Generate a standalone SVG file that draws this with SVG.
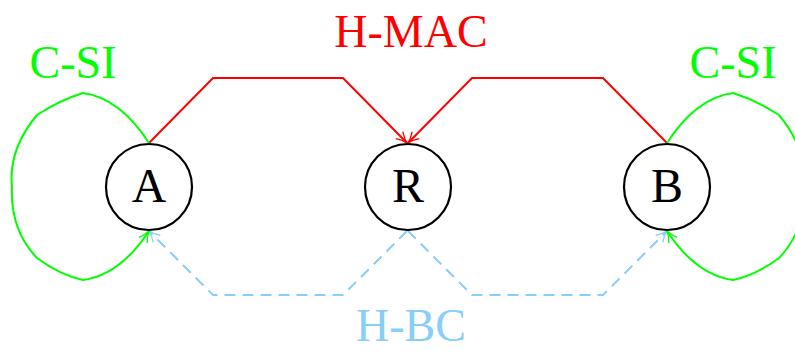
<svg xmlns="http://www.w3.org/2000/svg" width="795" height="351" viewBox="0 0 795 351">
<style>
.node circle{fill:#fff;stroke:#000;stroke-width:2.2}
.node text{font-family:"Liberation Serif",serif;font-size:48px;text-anchor:middle;fill:#000}
.lbl{font-family:"Liberation Serif",serif;font-size:46px;text-anchor:middle}
.red{stroke:#FF0000;stroke-width:2;fill:none}
.blue{stroke:#87CEFA;stroke-width:2;fill:none;stroke-dasharray:11 7}
.green{stroke:#00FF00;stroke-width:2;fill:none}
</style>
<defs>
<marker id="ar" viewBox="-12 -7 14 14" markerWidth="14" markerHeight="14" refX="0" refY="0" orient="auto" markerUnits="userSpaceOnUse"><path d="M-11,-5 Q-5,-1 0,0 Q-5,1 -11,5" fill="none" stroke="#FF0000" stroke-width="1.3"/></marker>
<marker id="ab" viewBox="-12 -7 14 14" markerWidth="14" markerHeight="14" refX="0" refY="0" orient="auto" markerUnits="userSpaceOnUse"><path d="M-11,-5 Q-5,-1 0,0 Q-5,1 -11,5" fill="none" stroke="#87CEFA" stroke-width="1.3"/></marker>
<marker id="ag" viewBox="-12 -7 14 14" markerWidth="14" markerHeight="14" refX="0" refY="0" orient="auto" markerUnits="userSpaceOnUse"><path d="M-11,-5 Q-5,-1 0,0 Q-5,1 -11,5" fill="none" stroke="#00FF00" stroke-width="1.3"/></marker>
</defs>
<g id="connectors">
<path class="red" d="M149,143 L213,78 L343,78 L407,143" marker-end="url(#ar)"/>
<path class="red" d="M667,143 L603,78 L472,78 L408,143" marker-end="url(#ar)"/>
<path class="blue" d="M407,231 L343,295 L213,295 L149,231" marker-end="url(#ab)"/>
<path class="blue" d="M408,231 L472,295 L603,295 L667,231" marker-end="url(#ab)"/>
<path class="green" d="M149,143 Q120,98 83,93 Q60,100 37,115 Q8,150 12,187 Q10,230 37,258 Q60,275 83,280 Q120,275 149,231" marker-end="url(#ag)"/>
<path class="green" d="M667,143 Q696,98 733,93 Q756,100 779,115 Q808,150 804,187 Q806,230 779,258 Q756,275 733,280 Q696,275 667,231" marker-end="url(#ag)"/>
</g>
<g id="node-A" class="node"><circle cx="149" cy="187" r="43"/><text x="149" y="202">A</text></g>
<g id="node-R" class="node"><circle cx="408" cy="187" r="43"/><text x="408" y="202">R</text></g>
<g id="node-B" class="node"><circle cx="667" cy="187" r="43"/><text x="667" y="202">B</text></g>
<text class="lbl" x="73" y="78" fill="#00FF00">C-SI</text>
<text class="lbl" x="733" y="78" fill="#00FF00">C-SI</text>
<text class="lbl" x="411" y="47" fill="#FF0000">H-MAC</text>
<text class="lbl" x="411" y="341" fill="#87CEFA">H-BC</text>
</svg>
